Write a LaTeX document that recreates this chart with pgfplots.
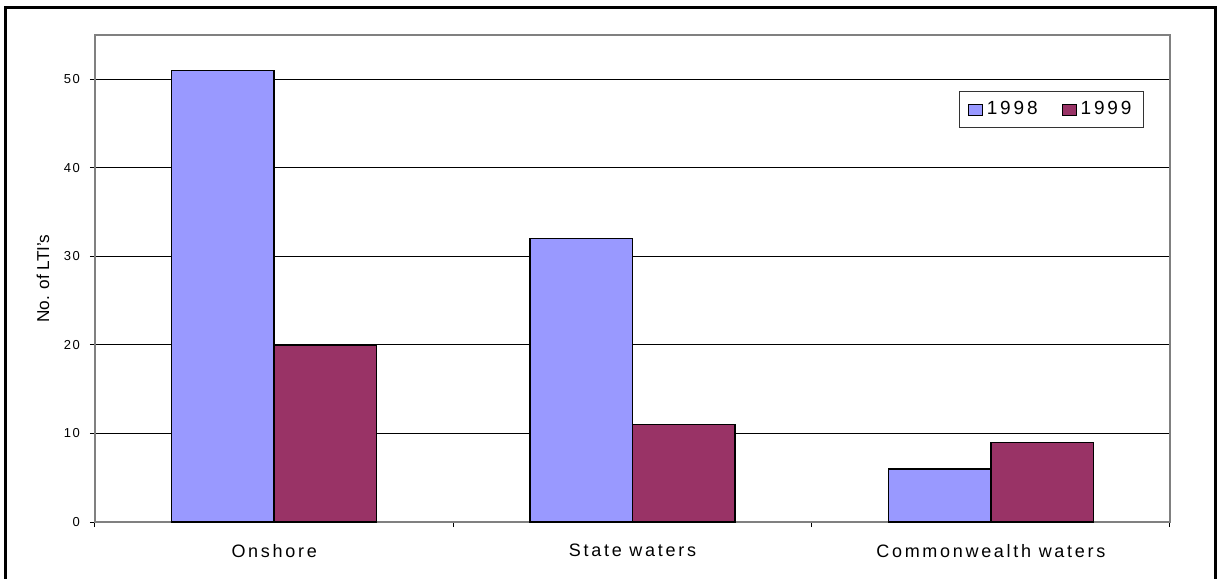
\documentclass[border=0pt]{standalone}
\usepackage{fontspec}
\setmainfont{Liberation Sans}
\usepackage{pgfplots}
\pgfplotsset{compat=1.18}
\definecolor{cA}{HTML}{9999FF}
\definecolor{cB}{HTML}{993366}
\begin{document}
\begin{tikzpicture}
\useasboundingbox (0,0) rectangle (611.5pt,289.5pt);
\draw[line width=1.5pt] (2.5pt,-5pt) -- (2.5pt,285.5pt) -- (607.5pt,285.5pt) -- (607.5pt,-5pt);
\begin{axis}[
  at={(47.5pt,28.5pt)}, anchor=south west,
  scale only axis, width=537.5pt, height=243.5pt,
  xmin=-0.5, xmax=2.5, ymin=0, ymax=55,
  ytick={0,10,20,30,40,50},
  xtick={0,1,2},
  xticklabels={Onshore,State waters,Commonwealth waters},
  minor xtick={-0.5,0.5,1.5,2.5},
  xtick pos=bottom, ytick pos=left,
  major x tick style={draw=none},
  minor x tick style={black, line width=0.5pt},
  y tick style={black, line width=0.5pt},
  tick align=outside,
  major tick length=2.5pt, minor tick length=2.5pt,
  axis line style={gray, line width=0.7pt},
  ymajorgrids, grid style={black, line width=0.5pt},
  /pgf/number format/assume math mode=true,
  yticklabel style={font=\fontsize{6.5}{7}\selectfont\addfontfeature{LetterSpace=12}, xshift=-1.5pt},
  xticklabel style={font=\fontsize{9}{10}\selectfont\addfontfeature{LetterSpace=15}, yshift=-5pt},
  ylabel={\fontsize{8.6}{10}\selectfont No. of LTI's},
  every axis y label/.style={at={(axis description cs:-0.0484,0.5)}, rotate=90, anchor=center},
  ybar, bar width=0.286,
  legend columns=2,
  legend style={at={(0.9758,0.885)}, anchor=north east, draw=black!80, line width=0.5pt,
    font=\fontsize{9.5}{11}\selectfont\addfontfeature{LetterSpace=15},
    inner xsep=4pt, inner ysep=3pt,
    /tikz/every even column/.append style={column sep=10pt}},
  legend image code/.code={\draw[#1, line width=0.5pt] (0pt,-2.75pt) rectangle (7pt,2.75pt);},
]
\addplot[fill=cA, draw=black, line width=0.7pt, bar shift=-0.143] coordinates {(0,51) (1,32) (2,6)};
\addplot[fill=cB, draw=black, line width=0.7pt, bar shift=0.143] coordinates {(0,20) (1,11) (2,9)};
\legend{1998,1999}
\end{axis}
\end{tikzpicture}
\end{document}
